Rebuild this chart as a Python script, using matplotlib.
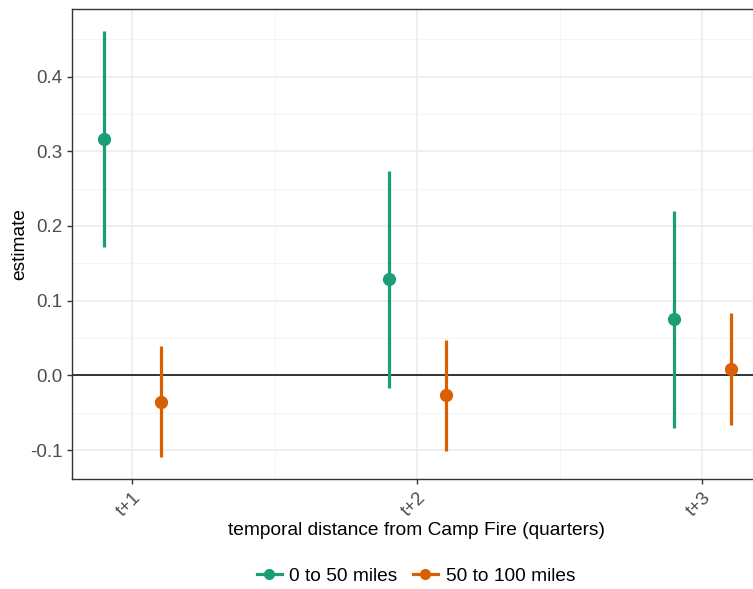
import numpy as np
import matplotlib.pyplot as plt
from matplotlib.lines import Line2D

plt.rcParams['font.family'] = ['Liberation Sans', 'DejaVu Sans']

# odhady a intervaly
kvartaly = ["t+1", "t+2", "t+3"]
skupiny = ["0 to 50 miles", "50 to 100 miles"]
barvy = ["#1B9E77", "#D95F02"]

odhad_blizko = [0.317, 0.129, 0.075]
dolni_blizko = [0.172, -0.017, -0.070]
horni_blizko = [0.461, 0.273, 0.220]

odhad_daleko = [-0.036, -0.026, 0.008]
dolni_daleko = [-0.110, -0.101, -0.067]
horni_daleko = [0.039, 0.047, 0.083]

fig = plt.figure(figsize=(7.53, 5.89), dpi=100)
ax = fig.add_axes([72/753, 110/589, 690/753, 470/589])

x = np.arange(1, len(kvartaly) + 1)
posun = 0.1
data = [(odhad_blizko, dolni_blizko, horni_blizko),
        (odhad_daleko, dolni_daleko, horni_daleko)]

ax.axhline(0, color="black", lw=1.1, zorder=2)

for i, (odh, lo, hi) in enumerate(data):
    xs = x + (-posun if i == 0 else posun)
    ax.vlines(xs, lo, hi, color=barvy[i], lw=2.3, zorder=3)
    ax.plot(xs, odh, "o", color=barvy[i], ms=8.5, zorder=4)

ax.set_xlim(1 - 60/285, 3 + 60/285)
ax.set_ylim(-0.1388, 0.4904)
ax.set_xticks(x)
ax.set_xticklabels(kvartaly, rotation=45, ha="right", rotation_mode="anchor")
ax.set_xticks([1.5, 2.5], minor=True)
ax.set_yticks([-0.1, 0.0, 0.1, 0.2, 0.3, 0.4])
ax.set_yticklabels(["-0.1", "0.0", "0.1", "0.2", "0.3", "0.4"])
ax.set_yticks(np.arange(-0.05, 0.5, 0.1), minor=True)

ax.grid(which="major", color="#EBEBEB", lw=1.1, zorder=0)
ax.grid(which="minor", color="#F2F2F2", lw=0.6, zorder=0)
ax.set_axisbelow(True)

for s in ax.spines.values():
    s.set_color("#333333")
    s.set_linewidth(1.0)

ax.tick_params(which="major", length=3.5, color="#333333", labelsize=13.5,
               labelcolor="#4D4D4D", width=1.0)
ax.tick_params(which="minor", length=0)
ax.tick_params(axis="x", pad=4)

ax.set_xlabel("temporal distance from Camp Fire (quarters)", fontsize=13.8, labelpad=1)
ax.set_ylabel("estimate", fontsize=13.8, labelpad=1)

handles = [Line2D([0], [0], color=c, lw=2.3, marker="o", ms=7) for c in barvy]
fig.legend(handles, skupiny, loc="center", bbox_to_anchor=(416/753, 13/589),
           ncol=2, frameon=False, fontsize=13.8, handlelength=1.3,
           handletextpad=0.4, columnspacing=0.8)

plt.savefig("out.png", dpi=100)
plt.close()
